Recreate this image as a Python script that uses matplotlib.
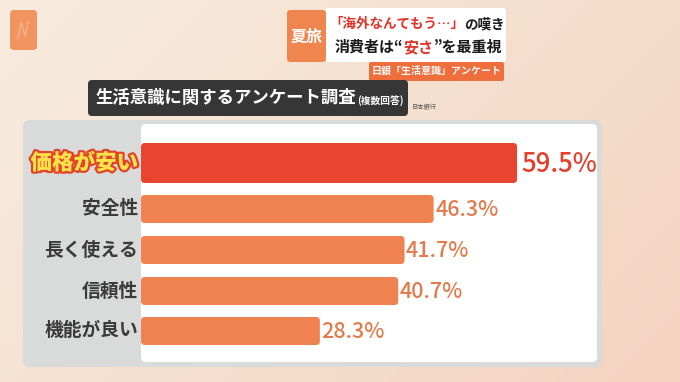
import matplotlib
matplotlib.use('Agg')
import matplotlib.pyplot as plt
from matplotlib.patches import FancyBboxPatch
import matplotlib.patheffects as pe
import numpy as np

plt.rcParams['font.family'] = ['Noto Sans CJK JP', 'DejaVu Sans']

# ---------------- data ----------------
categories = ['価格が安い', '安全性', '長く使える', '信頼性', '機能が良い']
values = [59.5, 46.3, 41.7, 40.7, 28.3]
value_labels = ['59.5%', '46.3%', '41.7%', '40.7%', '28.3%']

title = '生活意識に関するアンケート調査'
subtitle = '(複数回答)'
source = '日本銀行'
tag_text = '夏旅'
headline1 = [('「海外なんてもう…」', 'red'), ('の嘆き', 'black')]
headline2 = [('消費者は“', 'black'), ('安さ', 'red'), ('”を最重視', 'black')]
subhead = '日銀「生活意識」アンケート'

# ---------------- style ----------------
RED = '#e8442f'
ORANGE = '#f08150'
RED_TXT = '#e23f2c'
ORANGE_TXT = '#e27a4a'
DARK = '#3a3a3a'
HEAD_RED = '#e0332a'
COLMAP = {'red': HEAD_RED, 'black': '#1a1a1a', 'white': 'white'}

W, H = 680, 382
fig = plt.figure(figsize=(W / 100, H / 100), dpi=100)

# background axes in pixel coordinates
bg = fig.add_axes([0, 0, 1, 1])
bg.set_xlim(0, W)
bg.set_ylim(H, 0)
bg.axis('off')

# warm gradient background
yy, xx = np.mgrid[0:H, 0:W]
t = np.clip(0.65 * xx / W + 0.35 * yy / H, 0, 1)[..., None]
c0 = np.array([247, 236, 222]) / 255
c1 = np.array([244, 211, 192]) / 255
grad = c0 * (1 - t) + c1 * t
bg.imshow(grad, extent=(0, W, H, 0), aspect='auto', zorder=0)

renderer = fig.canvas.get_renderer()


def rbox(x0, y0, x1, y1, color, r=4, z=1, **kw):
    p = FancyBboxPatch((x0, y0), x1 - x0, y1 - y0,
                       boxstyle=f'round,pad=0,rounding_size={r}',
                       fc=color, ec='none', zorder=z, **kw)
    bg.add_patch(p)
    return p


def seq_text(x, y, segs, target_w=None, size=10, weight='bold', z=5):
    """Draw text segments one after another, scaled to a target width."""
    def draw(sz):
        arts = []
        cx = x
        for s, col in segs:
            tx = bg.text(cx, y, s, fontsize=sz, color=COLMAP[col], weight=weight,
                         ha='left', va='center', zorder=z)
            cx += tx.get_window_extent(renderer).width
            arts.append(tx)
        return arts, cx - x
    arts, w = draw(size)
    if target_w is not None:
        for a in arts:
            a.remove()
        arts, w = draw(size * target_w / w)
    return arts


# logo
rbox(10, 10, 37, 50, '#f29460', r=4, z=2)
bg.plot([18, 21, 25, 28], [38, 22, 36, 22], color='#f7b48c', lw=1.0, zorder=3)

# headline block
rbox(325, 8, 506, 62, 'white', r=3, z=2)
rbox(287, 10, 326, 62, '#ef8650', r=3, z=3)
bg.text(306.5, 37, tag_text, fontsize=11.5, color='white', weight='bold',
        ha='center', va='center', zorder=5)
seq_text(329, 24, headline1, target_w=176, size=10)
seq_text(335, 47, headline2, target_w=168, size=10)
rbox(369, 62, 504, 81, '#ee6e3c', r=2, z=2)
bg.text(436.5, 71.5, subhead, fontsize=7.2, color='white', weight='bold',
        ha='center', va='center', zorder=5)

# title box
rbox(88, 80, 408, 116, '#363636', r=4, z=2)
tt = bg.text(95, 98, title, fontsize=12.5, color='white', weight='bold',
             ha='left', va='center', zorder=5)
tw = tt.get_window_extent(renderer).width
bg.text(95 + tw + 1, 101, subtitle, fontsize=7, color='white', weight='bold',
        ha='left', va='center', zorder=5)
bg.text(412, 107, source, fontsize=4.5, color='#555555', ha='left', va='center', zorder=5)

# chart panel
rbox(23, 120, 602, 367, '#d9dbda', r=7, z=1)
rbox(141, 124, 597, 362, 'white', r=5, z=2)

# ---------------- bars ----------------
X0, X1, Y0, Y1 = 141, 597, 124, 362
PX_PER_UNIT = 6.32
ax = fig.add_axes([X0 / W, 1 - Y1 / H, (X1 - X0) / W, (Y1 - Y0) / H])
ax.set_xlim(0, (X1 - X0) / PX_PER_UNIT)
ax.set_ylim(Y1, Y0)
ax.axis('off')
ax.patch.set_alpha(0)

centers = [163, 209, 250, 291, 331]
heights = [40, 28, 28, 28, 28]
colors = [RED] + [ORANGE] * 4

bars = ax.barh(centers, values, height=heights, color=colors)
for b, col in zip(bars, colors):
    x, y = b.get_xy()
    w, h = b.get_width(), b.get_height()
    fp = FancyBboxPatch((x, y), w, h, boxstyle='round,pad=0,rounding_size=0.6',
                        mutation_aspect=PX_PER_UNIT, fc=col, ec='none', zorder=3)
    ax.add_patch(fp)
    b.set_visible(False)

# value labels
for i, (v, lab) in enumerate(zip(values, value_labels)):
    if i == 0:
        ax.text(v + 0.7, centers[i] + 1, lab, fontsize=18.5, color=RED_TXT,
                weight='medium', ha='left', va='center', clip_on=False, zorder=4)
    else:
        ax.text(v + 0.25, centers[i] + 1, lab, fontsize=15.5, color=ORANGE_TXT,
                weight='medium', ha='left', va='center', clip_on=False, zorder=4)

# category labels
for i, cat in enumerate(categories):
    xl = -3 / PX_PER_UNIT
    if i == 0:
        ax.text(xl, centers[i], cat, fontsize=15.5, color='#ffe24a', weight='heavy',
                ha='right', va='center', clip_on=False, zorder=4,
                path_effects=[pe.withStroke(linewidth=3.2, foreground='#e0452c')])
    else:
        ax.text(xl, centers[i], cat, fontsize=13.5, color=DARK, weight='bold',
                ha='right', va='center', clip_on=False, zorder=4)

fig.savefig('out.png', dpi=100)
